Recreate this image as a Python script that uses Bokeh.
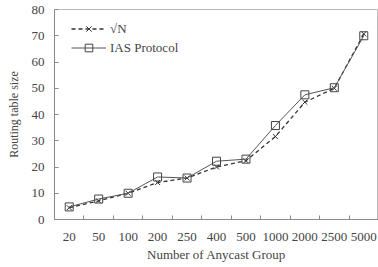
from bokeh.plotting import figure
from bokeh.models import Range1d, FixedTicker, Legend, LegendItem
from bokeh.embed import file_html
from bokeh.resources import INLINE

groups = ["20", "50", "100", "200", "250", "400", "500", "1000", "2000", "2500", "5000"]
sqrt_n = [4.5, 7.1, 10.0, 14.1, 15.8, 20.0, 22.4, 31.6, 44.7, 50.0, 70.7]
ias = [4.8, 7.8, 10.0, 16.2, 15.8, 22.2, 23.0, 35.8, 47.5, 50.2, 70.0]
y_ticks = [0, 10, 20, 30, 40, 50, 60, 70, 80]

xs = list(range(1, len(groups) + 1))
FONT = "Liberation Serif"
GREY = "#444444"
AXIS = "#8a8a8a"

p = figure(width=378, height=267, output_backend="svg", toolbar_location=None,
           x_range=Range1d(0.5, len(groups) + 0.5), y_range=Range1d(0, 80),
           min_border_left=54, min_border_right=0, min_border_top=9, min_border_bottom=48)
p.background_fill_color = "white"
p.border_fill_color = "white"
p.outline_line_color = "#bbbbbb"
p.grid.visible = False

# x axis
p.xaxis.ticker = FixedTicker(ticks=xs, minor_ticks=[x + 0.5 for x in range(0, len(groups) + 1)])
p.xaxis.major_label_overrides = {x: g for x, g in zip(xs, groups)}
p.xaxis.major_tick_in = 0
p.xaxis.major_tick_out = 0
p.xaxis.minor_tick_in = 4
p.xaxis.minor_tick_out = 0
p.xaxis.minor_tick_line_color = AXIS
p.xaxis.axis_line_color = AXIS
p.xaxis.major_label_standoff = 13
p.xaxis.axis_label = "Number of Anycast Group"
p.xaxis.axis_label_standoff = 3
p.xaxis.axis_label_text_font_style = "normal"

# y axis
p.yaxis.ticker = FixedTicker(ticks=y_ticks)
p.yaxis.major_tick_in = 4
p.yaxis.major_tick_out = 0
p.yaxis.minor_tick_in = 0
p.yaxis.minor_tick_out = 0
p.yaxis.major_tick_line_color = AXIS
p.yaxis.axis_line_color = AXIS
p.yaxis.major_label_standoff = 10
p.yaxis.axis_label = "Routing table size"
p.yaxis.axis_label_standoff = 8
p.yaxis.axis_label_text_font_style = "normal"

for ax in (p.xaxis, p.yaxis):
    ax.major_label_text_font = FONT
    ax.major_label_text_font_size = "13px"
    ax.major_label_text_color = GREY
    ax.axis_label_text_font = FONT
    ax.axis_label_text_color = GREY
p.xaxis.axis_label_text_font_size = "13px"
p.yaxis.axis_label_text_font_size = "12px"

l1 = p.line(xs, sqrt_n, line_color="#333333", line_width=1.3, line_dash="4 3")
m1 = p.scatter(xs, sqrt_n, marker="x", size=7, line_color="#333333", line_width=1)
l2 = p.line(xs, ias, line_color="#555555", line_width=1)
m2 = p.scatter(xs, ias, marker="square", size=8, fill_color=None, line_color="#444444", line_width=1)

legend = Legend(items=[LegendItem(label="√N", renderers=[l1, m1]),
                       LegendItem(label="IAS Protocol", renderers=[l2, m2])],
                location=(17, 162))
legend.background_fill_alpha = 0
legend.border_line_color = None
legend.padding = 0
legend.margin = 0
legend.spacing = 0
legend.glyph_width = 35
legend.glyph_height = 19
legend.label_standoff = 4
legend.label_text_font = FONT
legend.label_text_font_size = "13px"
legend.label_text_color = GREY
p.add_layout(legend, "center")

open("out.html", "w").write(file_html(p, INLINE))
